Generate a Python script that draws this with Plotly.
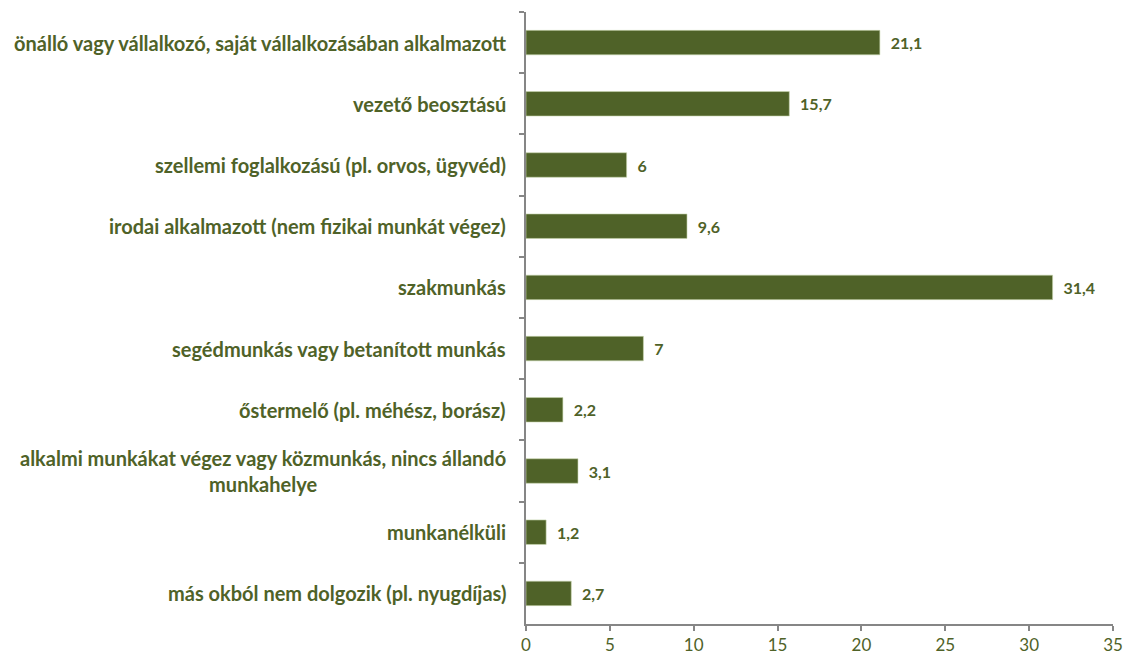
import plotly.graph_objects as go

categories = [
    "önálló vagy vállalkozó, saját vállalkozásában alkalmazott",
    "vezető beosztású",
    "szellemi foglalkozású (pl. orvos, ügyvéd)",
    "irodai alkalmazott (nem fizikai munkát végez)",
    "szakmunkás",
    "segédmunkás vagy betanított munkás",
    "őstermelő (pl. méhész, borász)",
    "alkalmi munkákat végez vagy közmunkás, nincs állandó<br>munkahelye",
    "munkanélküli",
    "más okból nem dolgozik (pl. nyugdíjas)",
]
values = [21.1, 15.7, 6, 9.6, 31.4, 7, 2.2, 3.1, 1.2, 2.7]
x_ticks = [0, 5, 10, 15, 20, 25, 30, 35]

GREEN = "#4F6228"
AXIS = "#868686"
FONT = "Lato"

fig = go.Figure(go.Bar(
    x=values,
    y=categories,
    orientation="h",
    marker=dict(color=GREEN, line=dict(color="#c9d6b0", width=0.6)),
    width=0.4,
    texttemplate="\u00a0\u00a0%{x}",
    textposition="outside",
    textfont=dict(family=FONT, size=16, color=GREEN, weight="bold"),
    cliponaxis=False,
    hoverinfo="skip",
))

for c in categories:
    fig.add_annotation(
        x=0, y=c, xref="x", yref="y",
        text=c, showarrow=False,
        xanchor="right", yanchor="middle", align="center",
        xshift=-18,
        font=dict(family=FONT, size=20, color=GREEN, weight="bold"),
    )

fig.update_layout(
    width=1129, height=659,
    margin=dict(l=526, r=16, t=12, b=35),
    plot_bgcolor="white", paper_bgcolor="white",
    separators=", ",
    showlegend=False,
    bargap=0.6,
    font=dict(family=FONT, color=GREEN),
)
fig.update_xaxes(
    range=[0, 35], tickvals=x_ticks,
    automargin=False,
    showgrid=False, zeroline=False,
    showline=True, linecolor=AXIS, linewidth=1.5,
    ticks="outside", ticklen=5, tickcolor=AXIS, tickwidth=1.5,
    tickfont=dict(family=FONT, size=17, color=GREEN),
)
fig.update_yaxes(
    autorange="reversed",
    automargin=False,
    showticklabels=False,
    showgrid=False, zeroline=False,
    showline=True, linecolor=AXIS, linewidth=1.5,
    ticks="outside", ticklen=5, tickcolor=AXIS, tickwidth=1.5,
    tickson="boundaries",
)

fig.write_html(
    "out.html",
    config={"displayModeBar": False},
    post_script="document.body.style.margin='0';document.body.style.overflow='hidden';",
)
